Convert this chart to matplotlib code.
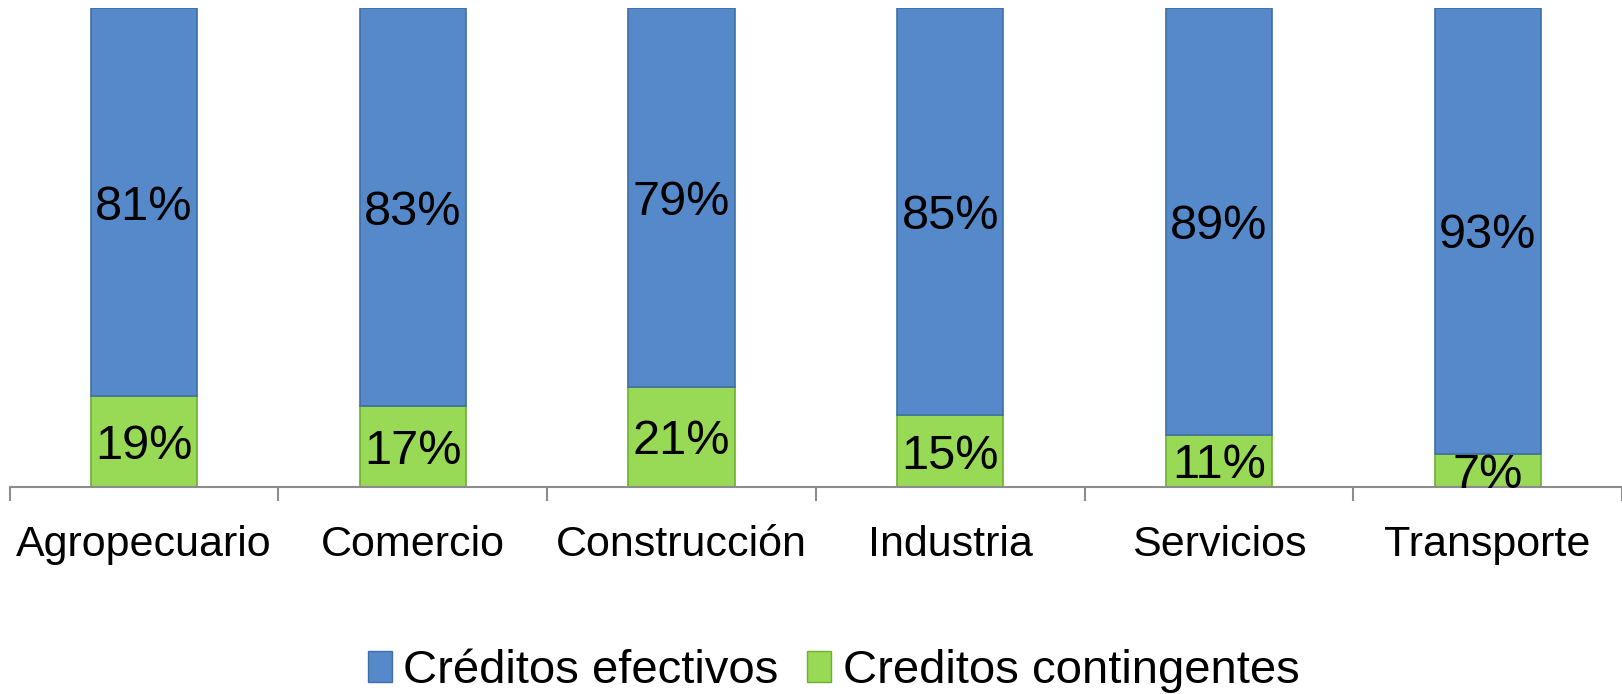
import numpy as np
import matplotlib.pyplot as plt
import matplotlib.patches as mpatches

plt.rcParams["font.family"] = ["Liberation Sans", "DejaVu Sans"]

CATEGORIES  = ["Agropecuario", "Comercio", "Construcción", "Industria", "Servicios", "Transporte"]
EFECTIVOS   = [81, 83, 79, 85, 89, 93]
CONTINGENTE = [19, 17, 21, 15, 11, 7]

C_BLUE   = "#5689CA"
C_GREEN  = "#98D956"
E_BLUE   = "#3F6FA8"
E_GREEN  = "#6FAE35"
AXIS_COL = "#8C8C8C"

fig = plt.figure(figsize=(16.22, 6.94), dpi=100)
ax = fig.add_axes([0.006, 0.298, 0.994, 0.690])

x = np.arange(len(CATEGORIES))
width = 0.395
cont = np.array(CONTINGENTE) / 100
efec = np.array(EFECTIVOS) / 100

ax.bar(x, cont, width, color=C_GREEN, edgecolor=E_GREEN, linewidth=1.2, zorder=2)
ax.bar(x, efec, width, bottom=cont, color=C_BLUE, edgecolor=E_BLUE, linewidth=1.2, zorder=2)

for xi, c, e in zip(x, cont, efec):
    ax.text(xi, c / 2, f"{round(c * 100)}%", ha="center", va="center_baseline",
            fontsize=35, zorder=3)
    ax.text(xi, c + e / 2, f"{round(e * 100)}%", ha="center", va="center_baseline",
            fontsize=35, zorder=3)

ax.set_xlim(-0.5, len(CATEGORIES) - 0.5)
ax.set_ylim(0, 1)
for s in ["top", "right", "left"]:
    ax.spines[s].set_visible(False)
ax.spines["bottom"].set_color(AXIS_COL)
ax.spines["bottom"].set_linewidth(1.5)
ax.set_yticks([])

ax.set_xticks(x)
ax.set_xticklabels(CATEGORIES, fontsize=31)
ax.tick_params(axis="x", which="major", length=0, pad=27)
ax.set_xticks(np.arange(len(CATEGORIES) + 1) - 0.5, minor=True)
ax.tick_params(axis="x", which="minor", length=10, width=1.5, color=AXIS_COL)

handles = [
    mpatches.Patch(facecolor=C_BLUE, edgecolor=E_BLUE, label="Créditos efectivos"),
    mpatches.Patch(facecolor=C_GREEN, edgecolor=E_GREEN, label="Creditos contingentes"),
]
fig.legend(handles=handles, loc="center", bbox_to_anchor=(0.514, 0.033), ncol=2,
           frameon=False, fontsize=34, handlelength=0.5, handleheight=0.65,
           handletextpad=0.25, columnspacing=0.6)

fig.savefig("out.png", dpi=100)
